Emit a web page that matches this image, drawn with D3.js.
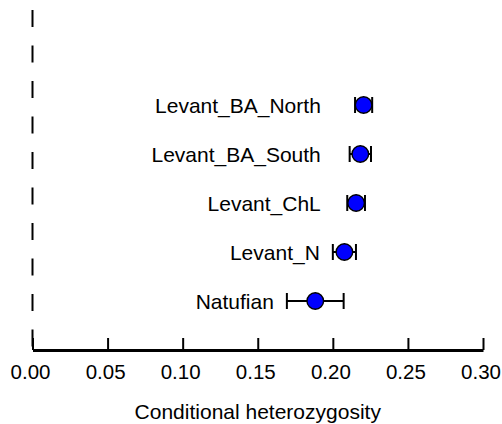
<!DOCTYPE html>
<meta charset="utf-8">
<style>
body { margin: 0; background: #fff; }
text { font-family: "Liberation Sans", Arial, Helvetica, sans-serif; fill: #000; }
</style>
<body>
<script src="https://cdn.jsdelivr.net/npm/d3@7"></script>
<script>

// data
var groups = ["Natufian", "Levant_N", "Levant_ChL", "Levant_BA_South", "Levant_BA_North"];
var heterozygosity = [0.1883, 0.2077, 0.2155, 0.2183, 0.2205];
var halfError = [0.0189, 0.0077, 0.0059, 0.0071, 0.0057];
var xTicks = [0, 0.05, 0.10, 0.15, 0.20, 0.25, 0.30];
var xTitle = "Conditional heterozygosity";

var width = 502, height = 424;

//scales
var x = d3.scaleLinear()
    .domain([0, 0.30])
    .range([32.5, 483]);

var y = d3.scaleLinear()
    .domain([0, 7])
    .range([350, 7]);

var svg = d3.select("body")
  .append("svg")
    .attr("width", width)
    .attr("height", height);

// dashed reference line at zero
svg.append("line")
    .attr("x1", x(0)).attr("x2", x(0))
    .attr("y1", y(7)).attr("y2", y(0))
    .attr("stroke", "#000")
    .attr("stroke-width", 2)
    .attr("stroke-dasharray", "17,18.5")
    .attr("stroke-dashoffset", -3);

// x axis, ticks pointing up
var axis = svg.append("g")
    .attr("transform", `translate(0,${y(0)})`)
    .call(d3.axisBottom(x)
      .tickValues(xTicks)
      .tickFormat(d3.format(".2f"))
      .tickSizeInner(-12)
      .tickSizeOuter(0)
      .tickPadding(14.5));

axis.select(".domain").attr("stroke-width", 3);
axis.selectAll(".tick line").attr("stroke-width", 2);
axis.selectAll(".tick text")
    .attr("dx", -2.5)
    .style("font-size", "20.5px")
    .style("font-family", "'Liberation Sans', Arial, sans-serif");

svg.append("text")
    .attr("x", (x.range()[0] + x.range()[1]) / 2)
    .attr("y", 419)
    .attr("text-anchor", "middle")
    .style("font-size", "21px")
    .text(xTitle);

var rows = groups.map((g, i) => ({
  name: g,
  mean: heterozygosity[i],
  lo: heterozygosity[i] - halfError[i],
  hi: heterozygosity[i] + halfError[i],
  pos: i + 1
}));

var row = svg.selectAll(".row")
  .data(rows)
  .enter()
  .append("g")
    .attr("class", "row");

// error bars
row.append("line")
    .attr("x1", d => x(d.lo)).attr("x2", d => x(d.hi))
    .attr("y1", d => y(d.pos)).attr("y2", d => y(d.pos))
    .attr("stroke", "#000").attr("stroke-width", 2);

row.selectAll(".cap")
    .data(d => [[d.lo, d.pos], [d.hi, d.pos]])
  .enter()
  .append("line")
    .attr("class", "cap")
    .attr("x1", d => x(d[0])).attr("x2", d => x(d[0]))
    .attr("y1", d => y(d[1]) - 8).attr("y2", d => y(d[1]) + 8)
    .attr("stroke", "#000").attr("stroke-width", 2);

row.append("circle")
    .attr("cx", d => x(d.mean))
    .attr("cy", d => y(d.pos))
    .attr("r", 8.3)
    .attr("fill", "#0000ff")
    .attr("stroke", "#000")
    .attr("stroke-width", 1.4);

// labels: right aligned, pushed left of the error bar when needed
row.append("text")
    .attr("x", d => Math.min(x(0.192), x(d.lo) - 13))
    .attr("y", d => y(d.pos))
    .attr("dy", "0.36em")
    .attr("text-anchor", "end")
    .style("font-size", "21px")
    .text(d => d.name);

</script>
</body>
